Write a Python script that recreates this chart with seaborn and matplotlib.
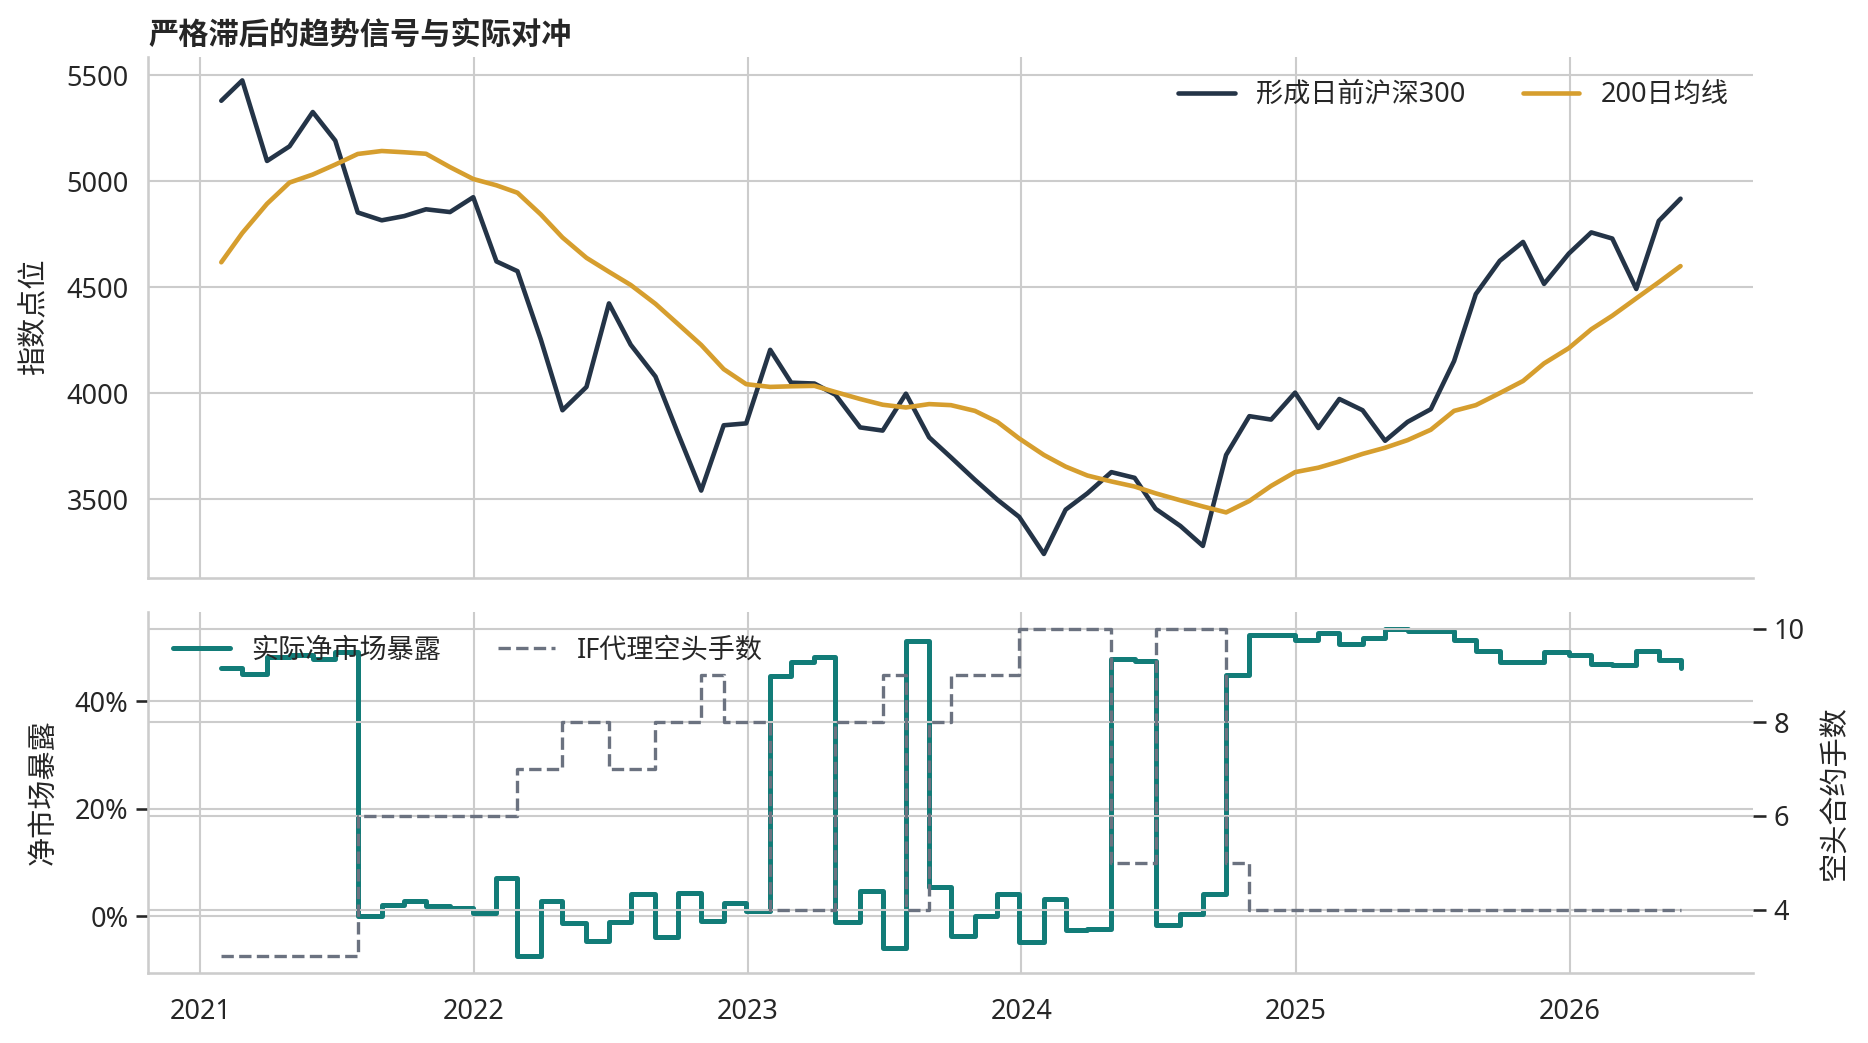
import pandas as pd
import matplotlib
matplotlib.use("Agg")
import matplotlib.pyplot as plt
import matplotlib.dates as mdates
from matplotlib.ticker import MultipleLocator, PercentFormatter
import seaborn as sns

# month-end observations, Jan 2021 .. May 2026
dates = pd.date_range("2021-01-01", "2026-05-01", freq="MS") + pd.offsets.BMonthEnd()

hs300 = [5380, 5476, 5096, 5165, 5327, 5192, 4853, 4816, 4836, 4868, 4855, 4925,
         4622, 4576, 4255, 3920, 4030, 4424, 4229, 4079, 3811, 3541, 3849, 3858,
         4205, 4050, 4046, 3993, 3839, 3824, 3998, 3792, 3698, 3592, 3498, 3417,
         3242, 3451, 3528, 3628, 3601, 3455, 3374, 3280, 3709, 3892, 3876, 4003,
         3836, 3973, 3920, 3776, 3865, 3925, 4152, 4468, 4625, 4714, 4516, 4659,
         4759, 4730, 4492, 4813, 4918]

ma200 = [4618, 4756, 4894, 4994, 5032, 5079, 5129, 5143, 5137, 5130, 5067, 5011,
         4981, 4946, 4844, 4735, 4639, 4573, 4511, 4422, 4327, 4228, 4114, 4043,
         4030, 4033, 4035, 4006, 3973, 3946, 3933, 3949, 3944, 3917, 3865, 3787,
         3709, 3654, 3612, 3584, 3560, 3528, 3495, 3466, 3438, 3492, 3563, 3628,
         3649, 3678, 3714, 3743, 3779, 3828, 3917, 3944, 4001, 4058, 4141, 4213,
         4302, 4366, 4448, 4524, 4600]

# net market exposure, percent
exposure = [46.1, 45.0, 48.2, 48.6, 47.8, 49.2, 0.0, 2.2, 2.8, 2.0, 1.6, 0.6,
            7.1, -7.4, 2.9, -1.2, -4.5, -1.1, 4.2, -3.9, 4.3, -0.8, 2.5, 1.1,
            44.7, 47.3, 48.3, -1.1, 4.8, -5.9, 51.2, 5.4, -3.6, 0.1, 4.2, -4.7,
            3.3, -2.5, -2.3, 47.9, 47.4, -1.6, 0.5, 4.2, 44.8, 52.3, 52.3, 51.3,
            52.7, 50.7, 51.7, 53.5, 53.0, 53.0, 51.3, 49.3, 47.3, 47.3, 49.1, 48.6,
            47.0, 46.7, 49.3, 47.6, 46.1]

# IF proxy short contracts
contracts = [3, 3, 3, 3, 3, 3, 6, 6, 6, 6, 6, 6,
             6, 7, 7, 8, 8, 7, 7, 8, 8, 9, 8, 8,
             4, 4, 4, 8, 8, 9, 4, 8, 9, 9, 9, 10,
             10, 10, 10, 5, 5, 10, 10, 10, 5, 4, 4, 4,
             4, 4, 4, 4, 4, 4, 4, 4, 4, 4, 4, 4,
             4, 4, 4, 4, 4]

NAVY = "#243447"
GOLD = "#D69E2E"
TEAL = "#127C78"
GRAY = "#6B7280"


def main():
    sns.set_theme(style="whitegrid")
    plt.rcParams["font.family"] = ["Noto Sans", "Noto Sans CJK SC", "DejaVu Sans"]
    plt.rcParams["axes.unicode_minus"] = False

    df = pd.DataFrame({"date": dates, "hs300": hs300, "ma200": ma200,
                       "exposure": exposure, "contracts": contracts})

    fig, (ax1, ax2) = plt.subplots(
        2, 1, figsize=(1868 / 150, 1043 / 150), dpi=150, sharex=True,
        gridspec_kw=dict(height_ratios=[1.445, 1], hspace=0.0785))
    fig.subplots_adjust(left=0.0794, right=0.9387, top=0.9456, bottom=0.0674)

    # top panel: index vs 200-day MA
    sns.lineplot(data=df, x="date", y="hs300", ax=ax1, color=NAVY, lw=2.2,
                 label="形成日前沪深300")
    sns.lineplot(data=df, x="date", y="ma200", ax=ax1, color=GOLD, lw=2.2,
                 label="200日均线")
    ax1.legend(loc="upper right", ncol=2, frameon=False, fontsize=13,
               handlelength=2.1, columnspacing=2.1)
    ax1.set_ylabel("指数点位", fontsize=14, labelpad=8)
    ax1.set_xlabel("")
    ax1.yaxis.set_major_locator(MultipleLocator(500))
    ax1.tick_params(labelsize=13)
    ax1.set_title("严格滞后的趋势信号与实际对冲", loc="left", fontsize=14.5,
                  fontweight="bold", color="#262626")
    sns.despine(ax=ax1)

    # bottom panel: exposure and short contracts
    sns.lineplot(data=df, x="date", y="exposure", ax=ax2, color=TEAL, lw=2.4,
                 drawstyle="steps-post", label="实际净市场暴露")
    ax3 = ax2.twinx()
    sns.lineplot(data=df, x="date", y="contracts", ax=ax3, color=GRAY, lw=1.6,
                 linestyle="--", drawstyle="steps-post", label="IF代理空头手数")
    if ax3.get_legend() is not None:
        ax3.get_legend().remove()
    h1, l1 = ax2.get_legend_handles_labels()
    h2, l2 = ax3.get_legend_handles_labels()
    ax2.legend(h1 + h2, l1 + l2, loc="upper left", ncol=2, frameon=False,
               fontsize=13, handlelength=2.1, columnspacing=2.1)

    ax2.yaxis.set_major_locator(MultipleLocator(20))
    ax2.yaxis.set_major_formatter(PercentFormatter(100, decimals=0))
    ax3.yaxis.set_major_locator(MultipleLocator(2))
    ax2.set_ylabel("净市场暴露", fontsize=14, labelpad=8)
    ax3.set_ylabel("空头合约手数", fontsize=14, labelpad=8)
    ax2.set_xlabel("")
    ax2.tick_params(labelsize=13)
    ax2.tick_params(axis="x", pad=6)
    ax3.tick_params(labelsize=13)
    sns.despine(ax=ax2)
    sns.despine(ax=ax3, left=True, bottom=True, right=True, top=True)

    ax2.xaxis.set_major_locator(mdates.YearLocator())
    ax2.xaxis.set_major_formatter(mdates.DateFormatter("%Y"))

    fig.savefig("out.png", dpi=150)
    plt.close(fig)


if __name__ == "__main__":
    main()
